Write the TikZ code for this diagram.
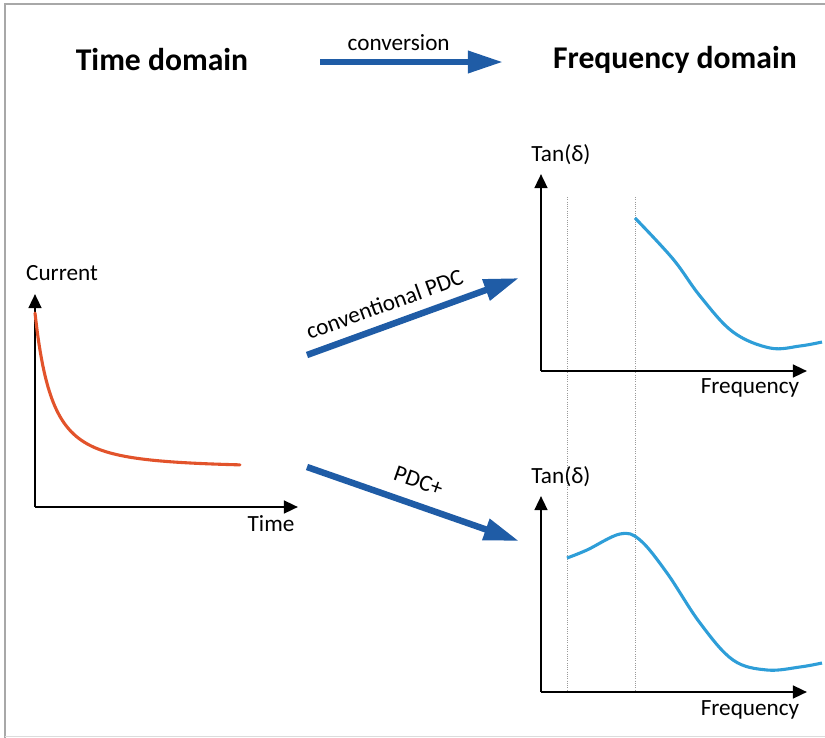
\documentclass[tikz,border=0pt]{standalone}
\usepackage{fontspec}
\setmainfont{Carlito}
\usepackage{tikz}
\usetikzlibrary{arrows.meta,positioning,calc}
\usepackage{xcolor}
\definecolor{pdcblue}{HTML}{1F5CA6}
\definecolor{decayred}{HTML}{E2532B}
\definecolor{tanblue}{HTML}{2E9ED8}
\definecolor{framegray}{HTML}{A8A8A8}
\definecolor{mygray}{HTML}{9A9A9A}

\begin{document}
\begin{tikzpicture}[x=0.025cm, y=-0.025cm,
  axis/.style={line width=1.8pt, -{Triangle[length=10pt,width=9pt]}},
  lbl/.style={inner sep=0pt, text=black, font=\fontsize{16.5}{19}\selectfont},
  ttl/.style={inner sep=0pt, font=\fontsize{22.5}{26}\selectfont\bfseries},
  bigarrow/.style={pdcblue, line width=4.6pt, -{Triangle[length=25pt,width=15pt]}},
  guide/.style={mygray, densely dotted, line width=0.6pt}]
\useasboundingbox (0,0) rectangle (825,738);
% frame
\draw[framegray, line width=2pt] (5,738) -- (5,4) -- (825,4);
\draw[framegray!40, line width=1pt] (5,736.5) -- (825,736.5);

% headings
\node[ttl] (tdom) at (162,60) {Time domain};
\node[ttl] (fdom) at (675,60) {Frequency domain};
\coordinate (conva) at (320,62);
\coordinate (convb) at (503,62);
\draw[bigarrow] (conva) -- node[lbl, above=6pt, pos=0.43] (convlbl) {conversion} (convb);

% time domain plot
\coordinate (t0) at (35,507);
\draw[axis] (t0) -- (35,294);
\draw[axis] (t0) -- (298,507);
\node[lbl] (curlbl) at (62,273) {Current};
\node[lbl] (timelbl) at (271,524) {Time};
\draw[decayred, line width=2.2pt, line cap=round, domain=35:240, samples=80, smooth]
  plot (\x, {468 - 155/((1+(\x-35)/34)^2)});

% guide lines
\draw[guide] (567,197) -- (567,690);
\draw[guide] (635,197) -- (635,690);

% conventional spectrum
\coordinate (f0) at (541,371);
\draw[axis] (f0) -- (541,174);
\draw[axis] (f0) -- (807,371);
\node[lbl] (tanlbla) at (561,155) {Tan(δ)};
\node[lbl] (freqlbla) at (750,388) {Frequency};
\draw[tanblue, line width=2.2pt, smooth, tension=0.6] plot coordinates
  {(635,218) (673,259) (700,296) (733,332) (770,348) (800,346) (822,342)};

% PDC+ spectrum
\coordinate (g0) at (541,692);
\draw[axis] (g0) -- (541,496);
\draw[axis] (g0) -- (807,692);
\node[lbl] (tanlblb) at (561,477) {Tan(δ)};
\node[lbl] (freqlblb) at (750,710) {Frequency};
\draw[tanblue, line width=2.2pt, smooth, tension=0.6] plot coordinates
  {(567,558) (587,550) (620,534) (640,540) (667,573) (700,623) (733,660) (767,670) (800,667) (822,663)};

% conversion arrows
\coordinate (pa) at (307,355);
\coordinate (pb) at (519,278);
\coordinate (qa) at (307,467);
\coordinate (qb) at (519,541);
\draw[bigarrow] (pa) -- node[lbl, sloped, above=7pt, pos=0.4] (convpdc) {conventional PDC} (pb);
\draw[bigarrow] (qa) -- node[lbl, sloped, above=9pt, pos=0.49] (pdcplus) {PDC+} (qb);
\end{tikzpicture}
\end{document}
